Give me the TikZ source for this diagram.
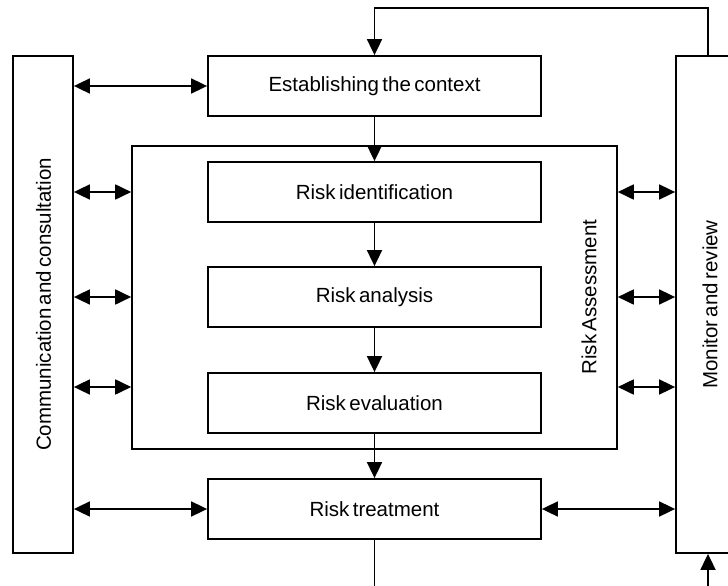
\documentclass[tikz,border=0pt]{standalone}
\usepackage{fontspec}
\setmainfont{Liberation Sans}[WordSpace=0.6]
\usetikzlibrary{positioning,arrows.meta,fit}

\begin{document}
\begin{tikzpicture}[x=1pt,y=-1pt,font=\fontsize{20.5}{24}\selectfont,>={Triangle[length=16pt,width=15pt]},
  box/.style={rectangle,draw=black,line width=1.8pt,minimum width=333pt,minimum height=60pt,inner sep=0pt},
  side/.style={rectangle,draw=black,line width=1.8pt,inner sep=0pt,minimum height=497pt},
  ar/.style={->,line width=1.8pt},
  dar/.style={<->,line width=1.8pt}]
\clip (0,0) rectangle (728,586);
\node[box](est) at (374.5,86){Establishing the context};
\node[box](ident) at (374.5,192){Risk identification};
\node[box](anal) at (374.5,297){Risk analysis};
\node[box](eval) at (374.5,403){Risk evaluation};
\node[box](treat) at (374.5,509){Risk treatment};
\node[side,minimum height=0pt,fit=(ident)(eval),inner xsep=75pt,inner ysep=15pt](assess){};
\node[rotate=90](assesslbl) at (589,297){Risk Assessment};
\node[side,minimum width=60pt](comm) at (43,304.5){};
\node[rotate=90](commlbl) at (43.5,304.5){Communication and consultation};
\node[side,minimum width=64pt](mon) at (708,304.5){};
\node[rotate=90](monlbl) at (710,304.5){Monitor and review};
\coordinate (lv3) at (374.5,387);
\coordinate (fb) at (374.5,8);
\coordinate (out) at (374.5,600);
\coordinate (monin) at (708,600);
\draw[dar](comm.east |- est)--(est.west);
\foreach \n in {ident,anal,lv3}{\draw[dar](comm.east |- \n)--(assess.west |- \n);\draw[dar](assess.east |- \n)--(mon.west |- \n);}
\draw[dar](comm.east |- treat)--(treat.west);\draw[dar](treat.east)--(mon.west |- treat);
\draw[ar](est)--(ident);\draw[ar](ident)--(anal);\draw[ar](anal)--(eval);\draw[ar](eval)--(treat);
\draw[line width=1.8pt](treat)--(out);
\draw[ar](mon.north)|-(fb)--(est.north);
\draw[ar](monin)--(mon.south);
\end{tikzpicture}
\end{document}
